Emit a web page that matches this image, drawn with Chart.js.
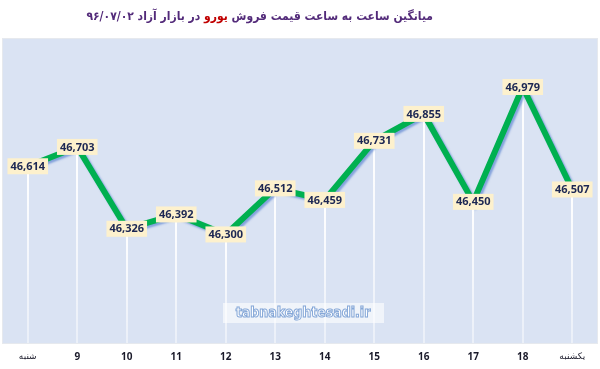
<!DOCTYPE html>
<html>
<head>
<meta charset="utf-8">
<script src="https://cdn.jsdelivr.net/npm/chart.js@4"></script>
<style>
    body { margin: 0; background: #ffffff; }
    #wrap { position: relative; width: 600px; height: 369px; }
    #title {
        position: absolute; top: 9px; right: 167px;
        direction: rtl; white-space: nowrap;
        font-family: "DejaVu Sans Condensed", "DejaVu Sans", sans-serif; font-weight: bold; font-size: 12px;
        color: #532b7a;
    }
    #title .red { color: #c00000; }
</style>
</head>
<body>
<div id="wrap">
    <div id="title">میانگین ساعت به ساعت قیمت فروش <span class="red">یورو</span> در بازار آزاد ۹۶/۰۷/۰۲</div>
    <canvas id="euroChart" width="600" height="369"></canvas>
</div>
<script>
const categories = ["شنبه", "9", "10", "11", "12", "13", "14", "15", "16", "17", "18", "یکشنبه"];
const prices = [46614, 46703, 46326, 46392, 46300, 46512, 46459, 46731, 46855, 46450, 46979, 46507];
const yMin = 45800;
const yMax = 47200;
const watermark = "tabnakeghtesadi.ir";

// plot background + white drop lines under the line
const backdrop = {
    id: "backdrop",
    beforeDraw(chart) {
        const { ctx, chartArea: a } = chart;
        ctx.save();
        ctx.fillStyle = "#dae3f3";
        ctx.fillRect(a.left, a.top, a.right - a.left, a.bottom - a.top);
        ctx.strokeStyle = "#e6e9ee";
        ctx.lineWidth = 1;
        ctx.strokeRect(a.left - 0.5, a.top - 0.5, a.right - a.left + 1, a.bottom - a.top + 1);
        ctx.restore();
    },
    beforeDatasetsDraw(chart) {
        const { ctx, chartArea: a } = chart;
        const pts = chart.getDatasetMeta(0).data;
        ctx.save();
        pts.forEach(p => {
            const g = ctx.createLinearGradient(0, p.y, 0, a.bottom);
            g.addColorStop(0, "rgba(255,255,255,1)");
            g.addColorStop(1, "rgba(255,255,255,0.45)");
            ctx.strokeStyle = g;
            ctx.lineWidth = 2;
            ctx.beginPath();
            ctx.moveTo(Math.round(p.x), p.y);
            ctx.lineTo(Math.round(p.x), a.bottom);
            ctx.stroke();
        });
        ctx.restore();
    },
    beforeDatasetDraw(chart) {
        const ctx = chart.ctx;
        ctx.save();
        ctx.shadowColor = "rgba(60,110,200,0.55)";
        ctx.shadowOffsetX = 2;
        ctx.shadowOffsetY = 2;
        ctx.shadowBlur = 2;
    },
    afterDatasetDraw(chart) {
        chart.ctx.restore();
    },
    afterDatasetsDraw(chart) {
        const { ctx, chartArea: a } = chart;
        const pts = chart.getDatasetMeta(0).data;
        ctx.save();
        ctx.font = "bold 11px 'Noto Sans', sans-serif";
        ctx.textAlign = "center";
        ctx.textBaseline = "middle";
        pts.forEach((p, i) => {
            const txt = prices[i].toLocaleString("en-US");
            const w = ctx.measureText(txt).width + 6;
            const h = 16;
            ctx.fillStyle = "#fdf1cd";
            ctx.fillRect(p.x - w / 2, p.y - h / 2, w, h);
            ctx.fillStyle = "#1c2753";
            ctx.fillText(txt, p.x, p.y + 0.5);
        });
        // watermark
        ctx.fillStyle = "rgba(255,255,255,0.6)";
        ctx.fillRect(223, 303, 161, 20);
        ctx.font = "bold 14px 'DejaVu Sans Condensed', 'DejaVu Sans', sans-serif";
        ctx.lineWidth = 1;
        ctx.strokeStyle = "#86a8d8";
        ctx.fillStyle = "#ffffff";
        ctx.fillText(watermark, 303, 313);
        ctx.strokeText(watermark, 303, 313);
        ctx.restore();
    }
};

new Chart(document.getElementById("euroChart").getContext("2d"), {
    type: "line",
    data: {
        labels: categories,
        datasets: [{
            data: prices,
            borderColor: "#00b050",
            borderWidth: 6,
            pointRadius: 0,
            tension: 0,
            fill: false
        }]
    },
    options: {
        responsive: false,
        animation: false,
        layout: { padding: { left: 3, right: 3, top: 39, bottom: -2 } },
        plugins: {
            legend: { display: false },
            title: { display: false },
            tooltip: { enabled: false }
        },
        scales: {
            x: {
                offset: true,
                grid: { display: false, drawTicks: false },
                border: { display: false },
                ticks: {
                    padding: 8,
                    color: "#1a1a2a",
                    maxRotation: 0,
                    autoSkip: false,
                    font: (c) => (c.index === 0 || c.index === categories.length - 1)
                        ? { family: "DejaVu Sans", size: 9 }
                        : { family: "Noto Sans", size: 10, weight: "bold" }
                }
            },
            y: {
                display: false,
                min: yMin,
                max: yMax
            }
        }
    },
    plugins: [backdrop]
});
</script>
</body>
</html>
